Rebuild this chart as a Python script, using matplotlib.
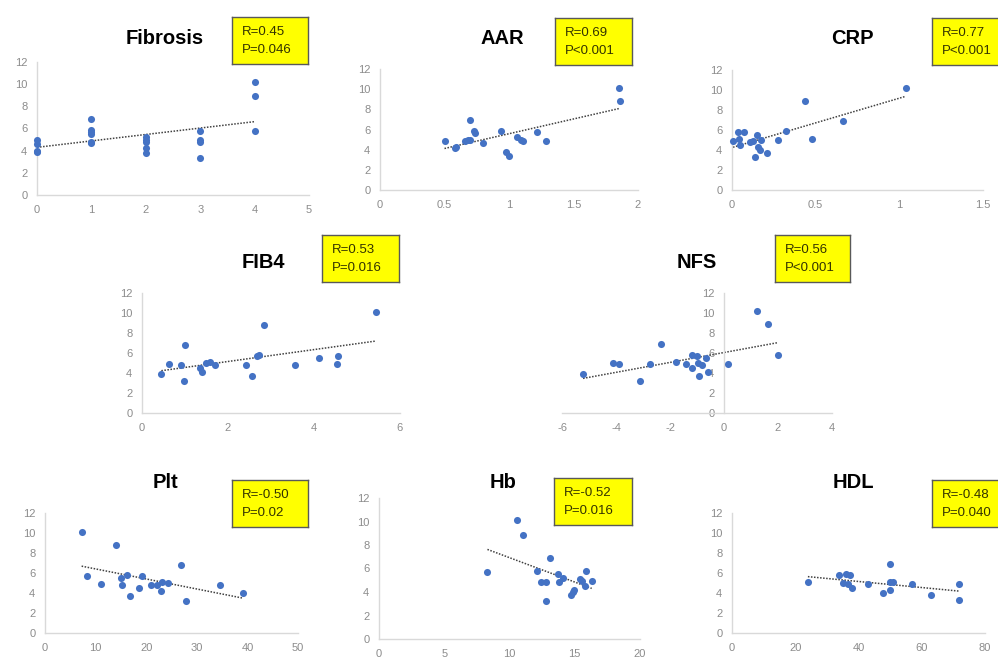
import numpy as np
import matplotlib
matplotlib.use("Agg")
import matplotlib.pyplot as plt
from matplotlib.ticker import FuncFormatter, MultipleLocator

plt.rcParams['font.family'] = ['Liberation Sans', 'DejaVu Sans']
plt.rcParams['axes.unicode_minus'] = False

# ---------------- data ----------------
titles = ["Fibrosis", "AAR", "CRP", "FIB4", "NFS", "Plt", "Hb", "HDL"]
stats = [("R=0.45", "P=0.046"), ("R=0.69", "P<0.001"), ("R=0.77", "P<0.001"),
         ("R=0.53", "P=0.016"), ("R=0.56", "P<0.001"), ("R=-0.50", "P=0.02"),
         ("R=-0.52", "P=0.016"), ("R=-0.48", "P=0.040")]

fib_x = [0, 0, 0, 0, 1, 1, 1, 1, 1, 1, 2, 2, 2, 2, 2, 3, 3, 3, 3, 4, 4, 4]
fib_y = [5.0, 4.6, 4.0, 3.9, 6.9, 5.9, 5.7, 5.5, 4.8, 4.7, 5.2, 5.0, 4.8, 4.2, 3.8,
         5.8, 5.0, 4.8, 3.3, 10.2, 8.9, 5.8]

aar_x = [0.50, 0.58, 0.59, 0.66, 0.68, 0.70, 0.70, 0.73, 0.74, 0.80, 0.94, 0.975,
         1.00, 1.06, 1.09, 1.105, 1.215, 1.29, 1.85, 1.86]
aar_y = [4.86, 4.13, 4.3, 4.89, 5.0, 5.0, 6.94, 5.85, 5.62, 4.63, 5.85, 3.8,
         3.37, 5.22, 4.96, 4.83, 5.79, 4.86, 10.15, 8.83]

crp_x = [0.006, 0.034, 0.04, 0.05, 0.07, 0.105, 0.125, 0.137, 0.149, 0.153, 0.165,
         0.173, 0.209, 0.276, 0.32, 0.437, 0.48, 0.666, 1.037]
crp_y = [4.86, 5.8, 5.13, 4.53, 5.8, 4.8, 4.9, 3.28, 5.53, 4.29, 4.02,
         4.96, 3.75, 4.96, 5.87, 8.92, 5.1, 6.87, 10.16]

fib4_x = [0.45, 0.62, 0.906, 0.97, 1.01, 1.34, 1.385, 1.49, 1.57, 1.69, 2.41, 2.55,
          2.67, 2.73, 2.84, 3.55, 4.11, 4.53, 4.55, 5.44]
fib4_y = [3.87, 4.93, 4.8, 3.2, 6.83, 4.53, 4.13, 5.0, 5.07, 4.83, 4.77, 3.73,
          5.7, 5.8, 8.83, 4.83, 5.5, 4.9, 5.73, 10.1]

nfs_x = [-5.22, -4.12, -3.9, -3.1, -2.73, -2.33, -1.78, -1.41, -1.19, -1.17, -1.0,
         -0.96, -0.94, -0.81, -0.67, -0.6, 0.16, 1.22, 1.64, 2.01]
nfs_y = [3.89, 4.96, 4.86, 3.25, 4.86, 6.87, 5.1, 4.86, 5.83, 4.53, 5.73,
         4.96, 3.75, 4.79, 5.53, 4.12, 4.93, 10.16, 8.88, 5.77]

plt_x = [7.24, 8.36, 11.1, 14.08, 15.1, 15.2, 16.25, 16.8, 18.55, 19.08, 20.99,
         22.04, 22.9, 23.16, 24.34, 26.97, 27.8, 34.54, 39.2]
plt_y = [10.07, 5.73, 4.87, 8.83, 5.47, 4.8, 5.83, 3.73, 4.5, 5.73, 4.8,
         4.8, 4.23, 5.07, 5.0, 6.83, 3.23, 4.8, 4.0]

hb_x = [8.31, 10.56, 11.05, 12.07, 12.38, 12.79, 12.79, 13.1, 13.71, 13.76, 14.07,
        14.7, 14.9, 14.93, 15.4, 15.57, 15.8, 15.88, 16.3]
hb_y = [5.73, 10.16, 8.88, 5.82, 4.88, 4.82, 3.26, 6.87, 5.53, 4.82, 5.16,
        3.74, 4.0, 4.2, 5.1, 4.96, 4.54, 5.82, 4.96]

hdl_x = [24.0, 33.9, 35.05, 36.1, 37.16, 36.8, 37.9, 42.9, 47.8, 49.9, 50.0, 50.0,
         51.05, 56.8, 62.8, 71.9, 71.9]
hdl_y = [5.13, 5.8, 4.97, 5.9, 5.8, 4.87, 4.53, 4.87, 4.03, 6.9, 4.3, 5.07,
         5.07, 4.87, 3.8, 4.87, 3.3]

xs = [fib_x, aar_x, crp_x, fib4_x, nfs_x, plt_x, hb_x, hdl_x]
ys = [fib_y, aar_y, crp_y, fib4_y, nfs_y, plt_y, hb_y, hdl_y]
xlims = [(0, 5), (0, 2), (0, 1.5), (0, 6), (-6, 4), (0, 50), (0, 20), (0, 80)]
xsteps = [1, 0.5, 0.5, 2, 2, 10, 5, 20]

# ---------------- layout (pixels) ----------------
W, H = 998, 657
ax_px = [(37, 309, 62, 195), (380, 638, 69, 190), (732, 983, 70, 190),
         (142, 400, 293, 413), (562, 832, 293, 413), (45, 298, 513, 633),
         (379, 640, 498, 639), (732, 985, 513, 633)]
title_px = [(165, 38), (502, 39), (852, 39), (263, 263), (697, 263),
            (165, 483), (503, 483), (853, 483)]
box_px = [(232, 308, 17, 64), (555, 632, 18, 65), (932, 1010, 18, 65),
          (322, 399, 235, 282), (775, 850, 235, 282), (232, 308, 480, 527),
          (554, 632, 478, 525), (932, 1010, 480, 527)]

def frac(x0, x1, yt, yb):
    return [x0 / W, 1 - yb / H, (x1 - x0) / W, (yb - yt) / H]

fig = plt.figure(figsize=(W / 100, H / 100), dpi=100)
fig.patch.set_facecolor('white')

blue = '#4472C4'
spine_c = '#D9D9D9'
tick_c = '#8C8C8C'
fmt = FuncFormatter(lambda v, p: '{:g}'.format(round(v, 6)))

for i in range(8):
    ax = fig.add_axes(frac(*ax_px[i]))
    x = np.array(xs[i], dtype=float)
    y = np.array(ys[i], dtype=float)
    ax.scatter(x, y, s=26, color=blue, zorder=3, linewidths=0, clip_on=False)
    k, b = np.polyfit(x, y, 1)
    xx = np.array([x.min(), x.max()])
    ax.plot(xx, k * xx + b, color='#404040', lw=1.1, ls=(0, (1, 1)), zorder=2)
    ax.set_xlim(*xlims[i])
    ax.set_ylim(0, 12)
    ax.xaxis.set_major_locator(MultipleLocator(xsteps[i]))
    ax.yaxis.set_major_locator(MultipleLocator(2))
    ax.xaxis.set_major_formatter(fmt)
    ax.yaxis.set_major_formatter(fmt)
    for s in ['top', 'right']:
        ax.spines[s].set_visible(False)
    for s in ['left', 'bottom']:
        ax.spines[s].set_color(spine_c)
        ax.spines[s].set_linewidth(1.0)
    if titles[i] == "NFS":
        ax.spines['left'].set_position(('data', 0))
    ax.tick_params(length=0, labelsize=8, labelcolor=tick_c, pad=7)
    ax.patch.set_alpha(0)

    tx, ty = title_px[i]
    fig.text(tx / W, 1 - ty / H, titles[i], ha='center', va='center',
             fontsize=14.5, fontweight='bold', color='black')

    bx0, bx1, by0, by1 = box_px[i]
    bax = fig.add_axes(frac(bx0, bx1, by0, by1))
    bax.set_facecolor('#FFFF00')
    bax.set_xticks([])
    bax.set_yticks([])
    for s in bax.spines.values():
        s.set_color('#595959')
        s.set_linewidth(1.0)
    r_txt, p_txt = stats[i]
    fig.text((bx0 + 10) / W, 1 - (by0 + 15) / H, r_txt, ha='left', va='center',
             fontsize=9.5, color='#333300')
    fig.text((bx0 + 10) / W, 1 - (by0 + 33) / H, p_txt, ha='left', va='center',
             fontsize=9.5, color='#333300')

fig.savefig('out.png', dpi=100)
